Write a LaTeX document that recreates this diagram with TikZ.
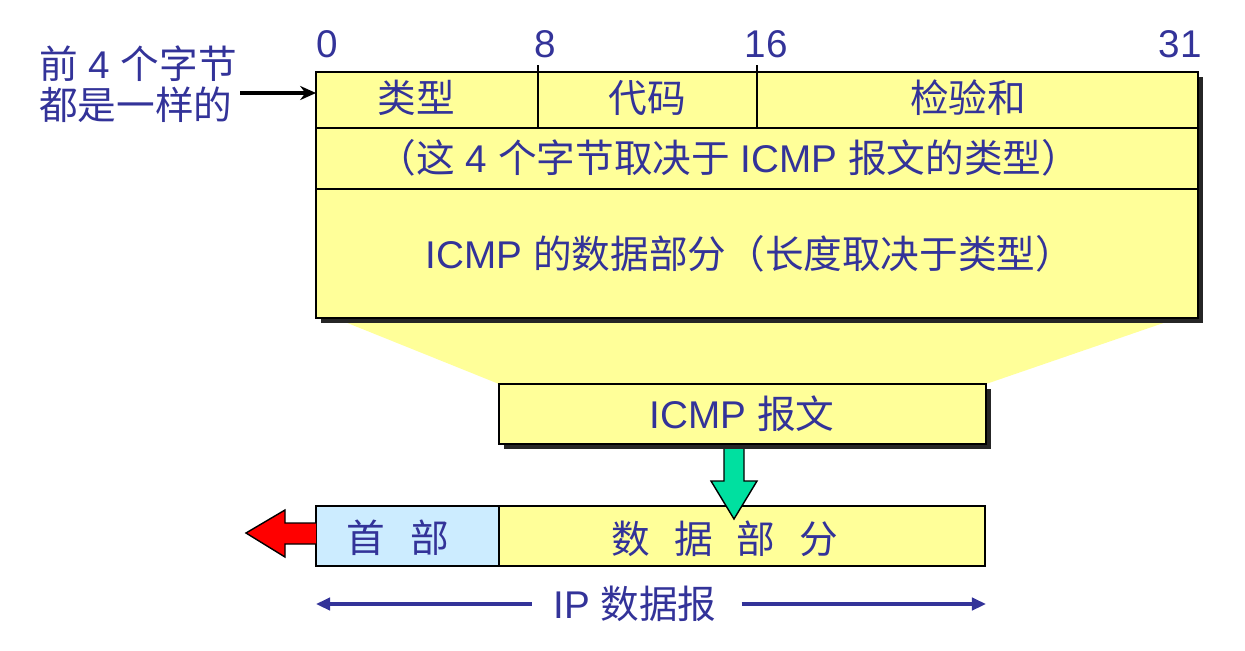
\documentclass[tikz,border=0pt]{standalone}
\usepackage{fontspec}
\setmainfont{Liberation Sans}
\newfontfamily\cjk{Noto Sans CJK SC}
\usepackage{tikz}
\usetikzlibrary{shadows,arrows.meta}
\usepackage{xcolor}
\definecolor{txtblue}{RGB}{51,51,153}
\definecolor{paleyellow}{RGB}{255,255,153}
\definecolor{paleblue}{RGB}{204,236,255}
\definecolor{mintgreen}{RGB}{0,224,160}

\begin{document}
\begin{tikzpicture}[x=0.02cm, y=-0.02cm,
    lbl/.style={text=txtblue, font=\fontsize{22}{23}\selectfont, inner sep=0pt},
    boxshadow/.style={drop shadow={shadow xshift=0.1cm, shadow yshift=-0.1cm,
                      opacity=1, fill=black!85}},
    frame/.style={draw, line width=1.4pt},
    dgarrow/.style={-{Triangle[length=8pt,width=7pt]}, draw=txtblue, line width=2.2pt}]
  \useasboundingbox (0,0) rectangle (1245,650);
  % funnel behind the boxes
  \fill[paleyellow] (335,318) -- (1178,318) -- (986,384) -- (499,384) -- cycle;
  % ICMP format box
  \path[frame, fill=paleyellow, boxshadow] (316,72) rectangle (1198,318);
  \draw[line width=1.4pt] (316,128) -- (1198,128) (316,189) -- (1198,189);
  \draw[line width=0.8pt] (538,65) -- (538,128) (757,65) -- (757,128);
  \node[lbl] (b0) at (327,44) {0};
  \node[lbl] (b8) at (545,44) {8};
  \node[lbl] (b16) at (766,44) {16};
  \node[lbl] (b31) at (1180,44) {31};
  \node[lbl] (type) at (416,98) {\cjk 类型};
  \node[lbl] (code) at (647,98) {\cjk 代码};
  \node[lbl] (cksum) at (968,98) {\cjk 检验和};
  \node[lbl] (rest) at (729,158)
    {{\cjk （这} 4 {\cjk 个字节取决于} ICMP {\cjk 报文的类型）}};
  \node[lbl] (data) at (750,254) {ICMP {\cjk 的数据部分（长度取决于类型）}};
  % left note
  \node[lbl, align=left] (same) at (138,84)
    {{\cjk 前} 4 {\cjk 个字节}\\{\cjk 都是一样的}};
  \coordinate (hdrin) at (316,93);
  \draw[-{Stealth[length=9pt,width=8pt]}, line width=2pt] (same.east |- hdrin) ++(3,0) -- (hdrin);
  % IP datagram
  \draw[frame, fill=paleblue] (316,506) rectangle (499,566);
  \draw[frame, fill=paleyellow] (499,506) rectangle (985,566);
  \node[lbl] (hdr) at (398,538) {\cjk 首\hspace{0.65em}部};
  \node[lbl] (payload) at (725,539) {\cjk 数\hspace{0.62em}据\hspace{0.62em}部\hspace{0.62em}分};
  \draw[fill=red, line width=0.8pt] (316,523) -- (285,523) -- (285,510) -- (246,533)
    -- (285,557) -- (285,544) -- (316,544);
  % green arrow into data part
  \draw[fill=mintgreen, line width=0.8pt] (724,447) -- (724,481) -- (711,481) -- (734,519)
    -- (757,481) -- (744,481) -- (744,447);
  % ICMP message box
  \path[frame, fill=paleyellow, boxshadow] (499,384) rectangle (986,444);
  \node[lbl] (icmp) at (742,414) {ICMP {\cjk 报文}};
  % IP datagram span
  \node[lbl] (ipdg) at (635,604) {IP {\cjk 数据报}};
  \coordinate (ipL) at (316,604);
  \coordinate (ipR) at (986,604);
  \draw[dgarrow, shorten <=12pt] (ipdg.west) -- (ipL);
  \draw[dgarrow, shorten <=14pt] (ipdg.east) -- (ipR);
\end{tikzpicture}
\end{document}
